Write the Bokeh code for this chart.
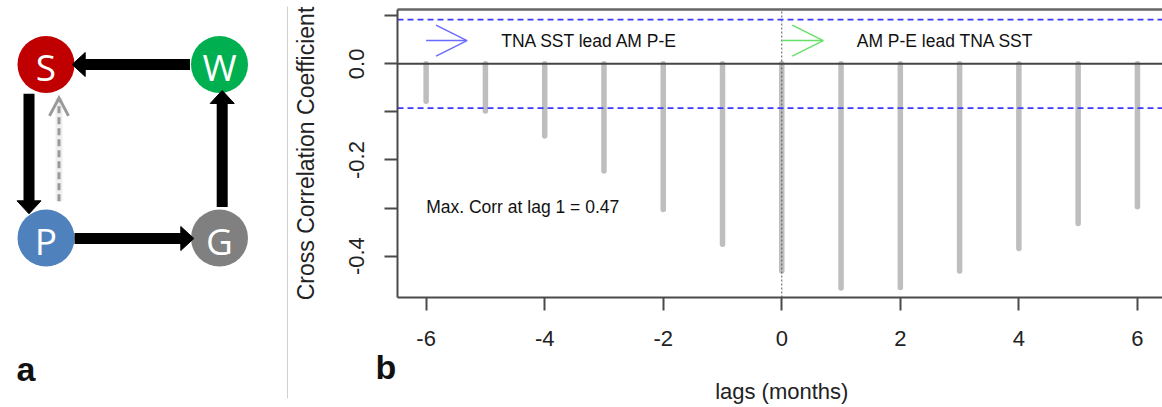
import math
from bokeh.plotting import figure
from bokeh.layouts import row
from bokeh.models import (Range1d, FixedTicker, PrintfTickFormatter,
                          Arrow, OpenHead)
from bokeh.core.properties import value
from bokeh.embed import file_html
from bokeh.resources import INLINE

# ---------------- data ----------------
lags = [-6, -5, -4, -3, -2, -1, 0, 1, 2, 3, 4, 5, 6]
xcorr = [-0.078, -0.098, -0.150, -0.223, -0.303, -0.375, -0.431,
         -0.466, -0.465, -0.431, -0.384, -0.332, -0.297]
conf_limit = 0.092
x_ticks = [-6, -4, -2, 0, 2, 4, 6]
y_ticks = [-0.4, -0.2, 0.0]
y_minor_ticks = [-0.3, -0.1, 0.1]
left_note = "TNA SST lead AM P-E"
right_note = "AM P-E lead TNA SST"
x_title = "lags (months)"
y_title = "Cross Correlation Coefficient"

node_names = ["S", "W", "P", "G"]
node_x = [45.5, 219.0, 45.5, 219.0]
node_y = [64.0, 64.0, 237.5, 237.5]
node_colors = ["#C00000", "#00B050", "#4F81BD", "#808080"]
# (from, to, offset_x, offset_y, start_gap, end_gap)
edges = [("W", "S", 0.0, 0.0, 1.0, -2.3),
         ("G", "W", 2.7, 0.0, 2.6, -2.4),
         ("P", "G", 0.0, 0.5, 0.0, -2.8),
         ("S", "P", -17.0, 0.0, 6.4, 1.3)]
dashed_edge = ("P", "S", 13.0, 0.0, 11.5, 8.0)

FONT = "Liberation Sans"
R = 28.5
H = 407
WA, WB = 290, 872

# ---------------- panel a: diagram (data y == window pixel row) ----------------
pa = figure(width=WA, height=H, x_range=Range1d(0, WA), y_range=Range1d(H, 0),
            x_axis_type=None, y_axis_type=None, toolbar_location=None,
            output_backend="svg", min_border=0, outline_line_color=None)
pa.grid.visible = False

pa.segment(x0=[287], y0=[6], x1=[287], y1=[398], line_color="#d0d0d0", line_width=1)

pa.circle(x=node_x, y=node_y, radius=R, fill_color=node_colors, line_color=None)
pa.text(x=node_x, y=[v + 2 for v in node_y], text=node_names, text_color="white",
        text_font=value("Open Sans"), text_font_size="37px",
        text_align="center", text_baseline="middle")

pos = {n: (x, y) for n, x, y in zip(node_names, node_x, node_y)}


def edge_geom(e):
    a, b, ox, oy, g0, g1 = e
    ax, ay = pos[a]
    bx, by = pos[b]
    ddx, ddy = bx - ax, by - ay
    L = math.hypot(ddx, ddy)
    ux, uy = ddx / L, ddy / L
    off = math.hypot(ox, oy)
    h = math.sqrt(R * R - off * off)
    sx, sy = ax + ox + ux * (h + g0), ay + oy + uy * (h + g0)
    tx, ty = bx + ox - ux * (h + g1), by + oy - uy * (h + g1)
    return sx, sy, tx, ty, ux, uy


HL, HW = 13.0, 12.0
shaft_x0, shaft_y0, shaft_x1, shaft_y1, head_xs, head_ys = [], [], [], [], [], []
for e in edges:
    sx, sy, tx, ty, ux, uy = edge_geom(e)
    bx, by = tx - ux * HL, ty - uy * HL
    shaft_x0.append(sx); shaft_y0.append(sy)
    shaft_x1.append(bx + ux * 0.5); shaft_y1.append(by + uy * 0.5)
    nx, ny = -uy, ux
    head_xs.append([tx, bx + nx * HW, bx - nx * HW])
    head_ys.append([ty, by + ny * HW, by - ny * HW])
pa.segment(x0=shaft_x0, y0=shaft_y0, x1=shaft_x1, y1=shaft_y1,
           line_color="black", line_width=11)
pa.patches(xs=head_xs, ys=head_ys, fill_color="black", line_color="black", line_width=1)

# dashed open arrow
sx, sy, tx, ty, ux, uy = edge_geom(dashed_edge)
nx, ny = -uy, ux
DL, DW = 18.0, 9.5
pa.segment(x0=[sx], y0=[sy], x1=[tx], y1=[ty], line_color="#e4e4e4", line_width=7, line_alpha=0.6)
pa.segment(x0=[sx], y0=[sy], x1=[tx - ux * 1.5], y1=[ty - uy * 1.5],
           line_color="#999999", line_width=3, line_dash="7 4")
pa.multi_line(xs=[[tx - ux * DL + nx * DW, tx, tx - ux * DL - nx * DW]],
              ys=[[ty - uy * DL + ny * DW, ty, ty - uy * DL - ny * DW]],
              line_color="#999999", line_width=3, line_join="miter")

pa.text(x=[16], y=[368], text=["a"], text_font=value(FONT), text_font_size="34px",
        text_font_style="bold", text_color="#111111", text_align="left",
        text_baseline="middle")

# ---------------- panel b: cross correlation ----------------
BOX_L, BOX_T, BOX_B = 397, 9, 297          # window pixels of the plot box
X_LEFT, Y_BOTTOM, Y_TOP = -6.483, -0.486, 0.113
PX_X = 59.275                               # pixels per lag
PX_Y = (BOX_B - BOX_T) / (Y_TOP - Y_BOTTOM)  # pixels per unit corr


def dx(px):   # window column -> lag coordinate
    return X_LEFT + (px - BOX_L) / PX_X


def dy(py):   # window row -> corr coordinate
    return Y_TOP - (py - BOX_T) / PX_Y


x_start, x_end = dx(WA), dx(WA + WB)
y_start, y_end = dy(H), dy(0)

pb = figure(width=WB, height=H, x_range=Range1d(x_start, x_end),
            y_range=Range1d(y_start, y_end), toolbar_location=None,
            output_backend="svg", min_border=0, outline_line_color=None)
pb.grid.visible = False

pb.xaxis.fixed_location = Y_BOTTOM
pb.xaxis.bounds = (X_LEFT, x_end)
pb.yaxis.fixed_location = X_LEFT
pb.yaxis.bounds = (Y_BOTTOM, Y_TOP)
pb.xaxis.ticker = FixedTicker(ticks=x_ticks)
pb.xaxis.formatter = PrintfTickFormatter(format="%d")
pb.yaxis.ticker = FixedTicker(ticks=y_ticks, minor_ticks=y_minor_ticks)
pb.yaxis.formatter = PrintfTickFormatter(format="%.1f")
pb.yaxis.major_label_orientation = "vertical"

for ax in (pb.xaxis, pb.yaxis):
    ax.axis_line_width = 2
    ax.axis_line_color = "#4a4a4a"
    ax.major_tick_line_width = 2
    ax.major_tick_line_color = "#4a4a4a"
    ax.major_tick_out = 13
    ax.major_tick_in = 0
    ax.minor_tick_out = 0
    ax.minor_tick_in = 0
    ax.major_label_text_font = FONT
    ax.major_label_text_font_size = "22px"
    ax.major_label_text_color = "#222222"
pb.yaxis.minor_tick_out = 13
pb.yaxis.minor_tick_line_width = 2
pb.yaxis.minor_tick_line_color = "#4a4a4a"
pb.xaxis.major_label_standoff = 20
pb.yaxis.major_label_standoff = 20

# bars
pb.segment(x0=lags, y0=[0] * len(lags), x1=lags, y1=xcorr,
           line_color="#bebebe", line_width=5.5, line_cap="round")

# reference lines
pb.segment(x0=[X_LEFT], y0=[0], x1=[x_end], y1=[0], line_color="#444444", line_width=2)
pb.segment(x0=[0], y0=[Y_BOTTOM], x1=[0], y1=[Y_TOP], line_color="#555555",
           line_width=1, line_dash="2 2")
pb.segment(x0=[X_LEFT, X_LEFT], y0=[conf_limit, -conf_limit],
           x1=[x_end, x_end], y1=[conf_limit, -conf_limit],
           line_color="#3b3bff", line_width=1.8, line_dash="6 4")
pb.segment(x0=[X_LEFT], y0=[Y_TOP], x1=[x_end], y1=[Y_TOP], line_color="#666666",
           line_width=2.5)

# direction arrows and notes
note_y = 0.0484
pb.add_layout(Arrow(x_start=-6, y_start=note_y, x_end=-5.31, y_end=note_y,
                    line_color="#6a6aff", line_width=1.5,
                    end=OpenHead(size=31, line_color="#6a6aff", line_width=1.5)))
pb.add_layout(Arrow(x_start=0, y_start=note_y, x_end=0.70, y_end=note_y,
                    line_color="#66e066", line_width=1.5,
                    end=OpenHead(size=31, line_color="#66e066", line_width=1.5)))
pb.text(x=[-3.24, 2.757], y=[note_y, note_y], text=[left_note, right_note],
        text_font=value(FONT), text_font_size="17.5px", text_color="#111111",
        text_align="center", text_baseline="middle")

imax = max(range(len(xcorr)), key=lambda i: abs(xcorr[i]))
pb.text(x=[-6.0], y=[-0.298],
        text=[f"Max. Corr at lag {lags[imax]} = {abs(xcorr[imax]):.2f}"],
        text_font=value(FONT), text_font_size="17.5px", text_color="#111111",
        text_align="left", text_baseline="middle")

# axis titles
pb.text(x=[0], y=[dy(391)], text=[x_title], text_font=value(FONT),
        text_font_size="22px", text_color="#222222",
        text_align="center", text_baseline="middle")
pb.text(x=[dx(305.5)], y=[(Y_TOP + Y_BOTTOM) / 2], text=[y_title], angle=math.pi / 2,
        text_font=value(FONT), text_font_size="23px", text_color="#222222",
        text_align="center", text_baseline="middle")

# panel letter
pb.text(x=[dx(375)], y=[dy(366)], text=["b"], text_font=value(FONT),
        text_font_size="34px", text_font_style="bold", text_color="#111111",
        text_align="left", text_baseline="middle")

layout = row(pa, pb)
open("out.html", "w").write(file_html(layout, INLINE))
